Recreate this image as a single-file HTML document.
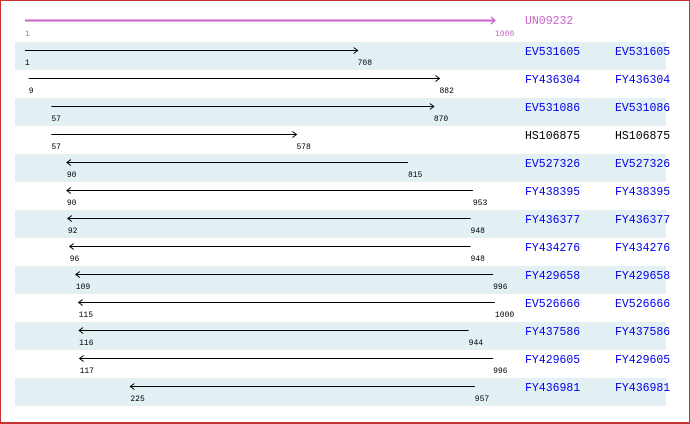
<!DOCTYPE html>
<html><head><meta charset="utf-8"><style>
html,body{margin:0;padding:0;background:#fff}
#f{position:relative;width:690px;height:424px;box-sizing:border-box;border:1px solid #c83232;border-bottom-width:2px;overflow:hidden}
svg{position:absolute;left:-1px;top:-1px}
.n{font-family:"Liberation Mono",monospace;font-size:8px;fill:#000}
.t{font-family:"Liberation Mono",monospace;font-size:11.5px;fill:#0000ee}
</style></head><body><div id="f">
<svg width="690" height="424" xmlns="http://www.w3.org/2000/svg">
<g fill="#e3f1f5">
<rect x="15" y="42" width="651" height="28"/>
<rect x="15" y="98" width="651" height="28"/>
<rect x="15" y="154" width="651" height="28"/>
<rect x="15" y="210" width="651" height="28"/>
<rect x="15" y="266" width="651" height="28"/>
<rect x="15" y="322" width="651" height="28"/>
<rect x="15" y="378" width="651" height="28"/>
</g>
<line x1="25" y1="20.5" x2="495" y2="20.5" stroke="#c864c8" stroke-width="2"/>
<polyline points="491,17 495,20.5 491,24" fill="none" stroke="#c864c8" stroke-width="1.2"/>
<text x="25" y="36" class="n" style="fill:#c864c8">1</text>
<text x="495" y="36" class="n" style="fill:#c864c8">1000</text>
<text x="525" y="24" class="t" style="fill:#c864c8">UN09232</text>
<g id="rows" stroke="#000" stroke-width="1" fill="none"></g>
<g id="txt"></g>
</svg></div>
<script>
var d=[[1,708,1,"EV531605"],[9,882,1,"FY436304"],[57,870,1,"EV531086"],[57,578,1,"HS106875"],[90,815,0,"EV527326"],[90,953,0,"FY438395"],[92,948,0,"FY436377"],[96,948,0,"FY434276"],[109,996,0,"FY429658"],[115,1000,0,"EV526666"],[116,944,0,"FY437586"],[117,996,0,"FY429605"],[225,957,0,"FY436981"]];
var g=document.getElementById('rows'),t=document.getElementById('txt'),ns="http://www.w3.org/2000/svg";
function X(v){return 25+(v-1)*470/999;}
function el(p,n,a,tx){var e=document.createElementNS(ns,n);for(var k in a)e.setAttribute(k,a[k]);if(tx)e.textContent=tx;p.appendChild(e);}
d.forEach(function(r,i){var top=42+i*28,y=top+8.5,a=X(r[0]),b=X(r[1]);
el(g,'line',{x1:a,y1:y,x2:b,y2:y});
if(r[2])el(g,'polyline',{points:(b-4)+','+(y-3)+' '+b+','+y+' '+(b-4)+','+(y+3)});
else el(g,'polyline',{points:(a+4)+','+(y-3)+' '+a+','+y+' '+(a+4)+','+(y+3)});
el(t,'text',{x:a,y:top+23,'class':'n'},String(r[0]));
el(t,'text',{x:b,y:top+23,'class':'n'},String(r[1]));
var st=r[3]=="HS106875"?"fill:#000":"";
el(t,'text',{x:525,y:top+13,'class':'t',style:st},r[3]);
el(t,'text',{x:615,y:top+13,'class':'t',style:st},r[3]);
});
</script>
</body></html>
